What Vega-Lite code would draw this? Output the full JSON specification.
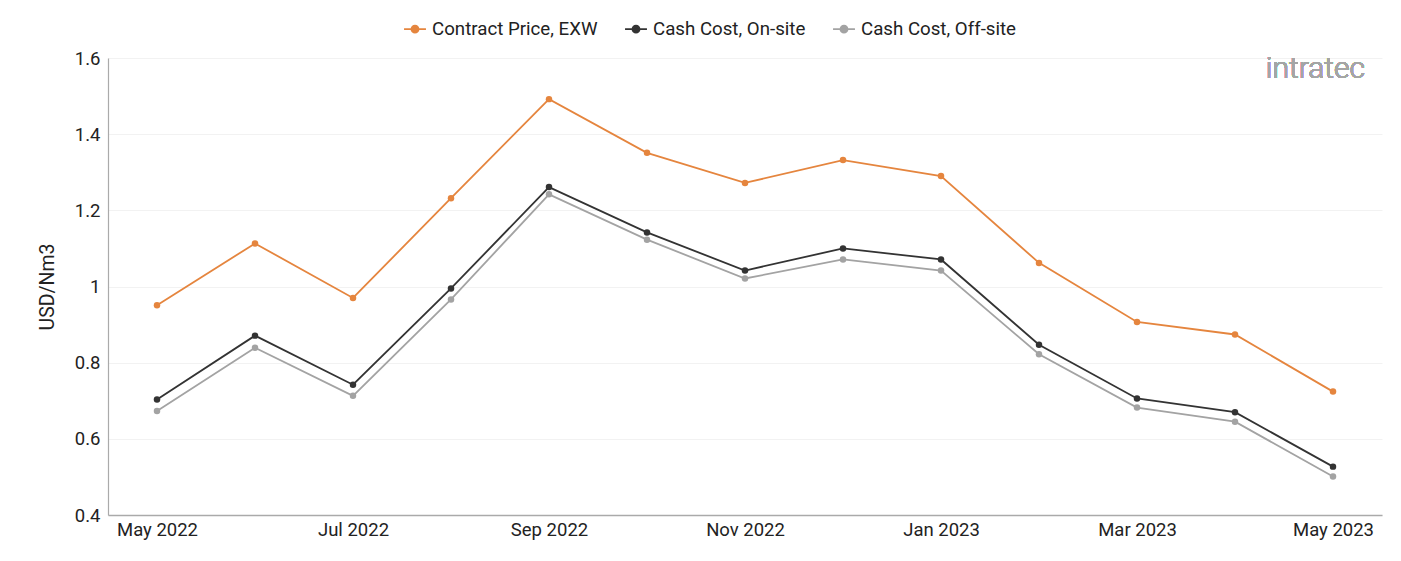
{
  "$schema": "https://vega.github.io/schema/vega-lite/v6.json",
  "width": 1274,
  "height": 457,
  "autosize": {"type": "none"},
  "padding": {"left": 108, "top": 58, "right": 19, "bottom": 46},
  "background": "white",
  "config": {
    "font": "Roboto",
    "view": {"stroke": null},
    "axis": {"labelFont": "Roboto", "titleFont": "Roboto", "labelColor": "#222", "titleColor": "#222"}
  },
  "data": {
    "values": [
      {"month": "May 2022", "series": "Contract Price, EXW", "value": 0.951},
      {"month": "Jun 2022", "series": "Contract Price, EXW", "value": 1.113},
      {"month": "Jul 2022", "series": "Contract Price, EXW", "value": 0.970},
      {"month": "Aug 2022", "series": "Contract Price, EXW", "value": 1.232},
      {"month": "Sep 2022", "series": "Contract Price, EXW", "value": 1.492},
      {"month": "Oct 2022", "series": "Contract Price, EXW", "value": 1.351},
      {"month": "Nov 2022", "series": "Contract Price, EXW", "value": 1.272},
      {"month": "Dec 2022", "series": "Contract Price, EXW", "value": 1.332},
      {"month": "Jan 2023", "series": "Contract Price, EXW", "value": 1.290},
      {"month": "Feb 2023", "series": "Contract Price, EXW", "value": 1.062},
      {"month": "Mar 2023", "series": "Contract Price, EXW", "value": 0.907},
      {"month": "Apr 2023", "series": "Contract Price, EXW", "value": 0.874},
      {"month": "May 2023", "series": "Contract Price, EXW", "value": 0.724},
      {"month": "May 2022", "series": "Cash Cost, On-site", "value": 0.703},
      {"month": "Jun 2022", "series": "Cash Cost, On-site", "value": 0.871},
      {"month": "Jul 2022", "series": "Cash Cost, On-site", "value": 0.742},
      {"month": "Aug 2022", "series": "Cash Cost, On-site", "value": 0.995},
      {"month": "Sep 2022", "series": "Cash Cost, On-site", "value": 1.261},
      {"month": "Oct 2022", "series": "Cash Cost, On-site", "value": 1.142},
      {"month": "Nov 2022", "series": "Cash Cost, On-site", "value": 1.042},
      {"month": "Dec 2022", "series": "Cash Cost, On-site", "value": 1.100},
      {"month": "Jan 2023", "series": "Cash Cost, On-site", "value": 1.071},
      {"month": "Feb 2023", "series": "Cash Cost, On-site", "value": 0.847},
      {"month": "Mar 2023", "series": "Cash Cost, On-site", "value": 0.706},
      {"month": "Apr 2023", "series": "Cash Cost, On-site", "value": 0.670},
      {"month": "May 2023", "series": "Cash Cost, On-site", "value": 0.527},
      {"month": "May 2022", "series": "Cash Cost, Off-site", "value": 0.673},
      {"month": "Jun 2022", "series": "Cash Cost, Off-site", "value": 0.839},
      {"month": "Jul 2022", "series": "Cash Cost, Off-site", "value": 0.713},
      {"month": "Aug 2022", "series": "Cash Cost, Off-site", "value": 0.966},
      {"month": "Sep 2022", "series": "Cash Cost, Off-site", "value": 1.242},
      {"month": "Oct 2022", "series": "Cash Cost, Off-site", "value": 1.123},
      {"month": "Nov 2022", "series": "Cash Cost, Off-site", "value": 1.021},
      {"month": "Dec 2022", "series": "Cash Cost, Off-site", "value": 1.071},
      {"month": "Jan 2023", "series": "Cash Cost, Off-site", "value": 1.042},
      {"month": "Feb 2023", "series": "Cash Cost, Off-site", "value": 0.822},
      {"month": "Mar 2023", "series": "Cash Cost, Off-site", "value": 0.682},
      {"month": "Apr 2023", "series": "Cash Cost, Off-site", "value": 0.645},
      {"month": "May 2023", "series": "Cash Cost, Off-site", "value": 0.501}
    ]
  },
  "layer": [
    {
      "mark": {"type": "line", "strokeWidth": 1.8, "point": {"filled": true, "size": 42, "opacity": 1}},
      "encoding": {
        "x": {
          "field": "month", "type": "ordinal", "sort": null,
          "scale": {"type": "point", "padding": 0.5},
          "axis": {
            "title": null,
            "values": ["May 2022", "Jul 2022", "Sep 2022", "Nov 2022", "Jan 2023", "Mar 2023", "May 2023"],
            "labelAngle": 0, "labelFontSize": 18.5, "ticks": false, "labelPadding": 5,
            "domainColor": "#aaaaaa", "domainWidth": 1.5, "grid": false
          }
        },
        "y": {
          "field": "value", "type": "quantitative",
          "scale": {"domain": [0.4, 1.6], "nice": false, "zero": false},
          "axis": {
            "title": "USD/Nm3", "titleFontSize": 19.5, "titleFontWeight": "normal", "titlePadding": 17,
            "values": [0.4, 0.6, 0.8, 1, 1.2, 1.4, 1.6], "format": "~g",
            "labelFontSize": 18.5, "ticks": false, "labelPadding": 8,
            "domainColor": "#aaaaaa", "domainWidth": 1.2,
            "gridColor": "#f2f2f2", "gridWidth": 1
          }
        },
        "color": {
          "field": "series", "type": "nominal",
          "scale": {
            "domain": ["Contract Price, EXW", "Cash Cost, On-site", "Cash Cost, Off-site"],
            "range": ["#e5853e", "#333333", "#a3a3a3"]
          },
          "legend": {
            "orient": "none", "legendX": 295, "legendY": -41,
            "direction": "horizontal", "title": null,
            "labelFontSize": 18.7, "labelColor": "#222", "labelFont": "Roboto", "labelLimit": 400,
            "symbolType": "M-1,0L1,0M0.32,0A0.32,0.32 0 1 1 -0.32,0A0.32,0.32 0 1 1 0.32,0",
            "symbolSize": 480, "symbolStrokeWidth": 1.8, "columnPadding": 23, "labelOffset": 5
          }
        }
      }
    },
    {
      "mark": {"type": "text", "align": "right", "baseline": "middle", "fontSize": 30, "font": "Roboto", "fontWeight": 300, "color": "#a5a5a5", "dx": 32},
      "encoding": {
        "x": {"datum": "May 2023"},
        "y": {"datum": 1.572},
        "text": {"value": "intratec"}
      }
    }
  ]
}
